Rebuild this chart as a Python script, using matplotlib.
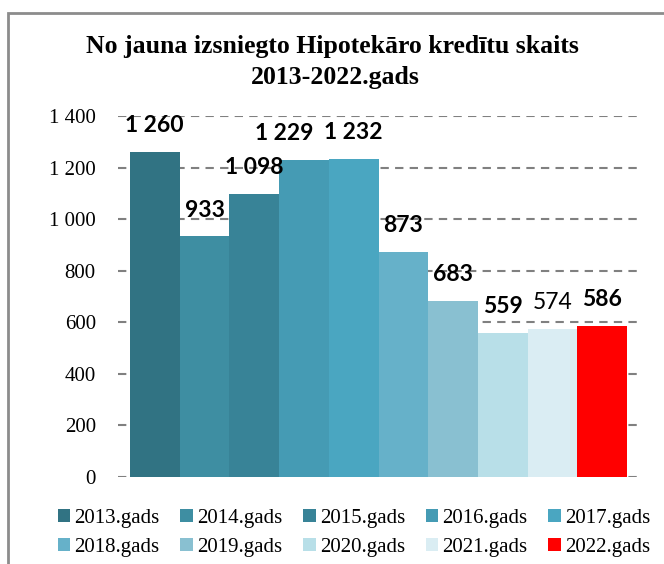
"""
Hipotekāro kredītu skaits 2013-2022 - bar chart
"""

import matplotlib
matplotlib.use("Agg")
import matplotlib.pyplot as plt
from matplotlib.patches import Rectangle
from matplotlib.ticker import FuncFormatter


# ---------- Data ----------
years = ["2013.gads", "2014.gads", "2015.gads", "2016.gads", "2017.gads",
         "2018.gads", "2019.gads", "2020.gads", "2021.gads", "2022.gads"]
counts = [1260, 933, 1098, 1229, 1232, 873, 683, 559, 574, 586]
label_bold = [True, True, True, True, True, True, True, True, False, True]

colors = ["#317383", "#3E8EA2", "#388397", "#459BB4", "#4AA6C1",
          "#66B1C9", "#89C0D1", "#B8DFE8", "#DAEDF3", "#FF0000"]

# horizontal nudges of the value labels (points), as placed in the original
label_dx = [0, 0, 0, -14, 0, 0, 0, 0, 0, 0]

serif = "Liberation Serif"
label_font = "Lato"


def space_thousands(v, _pos=None):
    return f"{int(v):,}".replace(",", " ")


# ---------- Plot ----------
W, H = 664, 564
fig = plt.figure(figsize=(W / 100, H / 100), dpi=100)
ax = fig.add_axes([118 / W, 1 - 477 / H, (643 - 118) / W, (477 - 116) / H])

handles = []
for i, (yr, v, c) in enumerate(zip(years, counts, colors)):
    b = ax.bar(i, v, width=1.0, color=c, label=yr, zorder=3)
    handles.append(b)
    ax.annotate(space_thousands(v), xy=(i, v), xytext=(label_dx[i], 19),
                textcoords="offset points", ha="center", va="center",
                fontsize=16.5, family=label_font,
                fontweight="bold" if label_bold[i] else "normal", zorder=4)

ax.set_xlim(-0.74, 9.82)
ax.set_ylim(0, 1400)
ax.set_yticks(range(0, 1401, 200))
ax.yaxis.set_major_formatter(FuncFormatter(space_thousands))
ax.set_xticks([])
ax.grid(axis="y", color="#808080", linestyle=(0, (4, 3)), linewidth=1.5, zorder=0)
for s in ax.spines.values():
    s.set_visible(False)
ax.tick_params(axis="y", length=0, pad=16)
for lab in ax.get_yticklabels():
    lab.set_fontfamily(serif)
    lab.set_fontsize(15)

fig.text(332 / W, 1 - 47 / H, "No jauna izsniegto Hipotekāro kredītu skaits",
         ha="center", va="center", family=serif, fontweight="bold", fontsize=18.5)
fig.text(335 / W, 1 - 77 / H, "2013-2022.gads",
         ha="center", va="center", family=serif, fontweight="bold", fontsize=18.5)

# legend is filled column by column, so reorder to read row by row
order = [0, 5, 1, 6, 2, 7, 3, 8, 4, 9]
fig.legend(handles=[handles[k] for k in order], labels=[years[k] for k in order],
           ncol=5, loc="center",
           bbox_to_anchor=(354 / W, 1 - 533 / H), frameon=False,
           prop={"family": serif, "size": 15}, handlelength=0.6,
           handleheight=0.6, handletextpad=0.2, columnspacing=1.0,
           labelspacing=0.5, borderpad=0)

# outer chart border (cut off at right and bottom)
fig.patches.append(Rectangle((8 / W, -0.1), 1.2, 1 - 13 / H + 0.1,
                             transform=fig.transFigure, fill=False,
                             edgecolor="#8C8C8C", linewidth=2))

fig.savefig("out.png", dpi=100)
